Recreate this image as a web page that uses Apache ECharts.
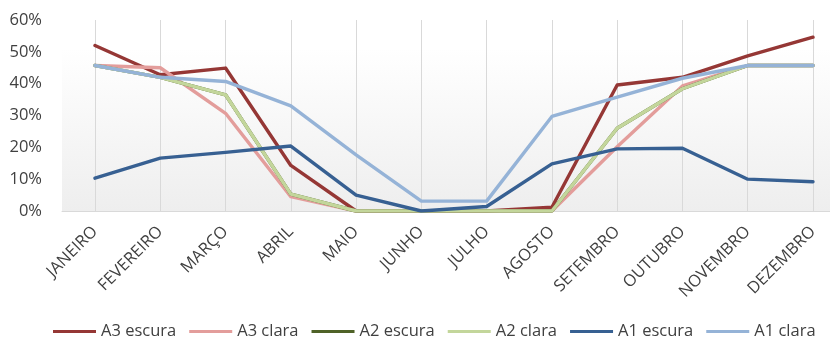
<!DOCTYPE html>
<html>
<head>
<meta charset="utf-8">
<script src="https://cdn.jsdelivr.net/npm/echarts@6/dist/echarts.min.js"></script>
<style>
html,body{margin:0;padding:0;background:#fff;}
#c{width:830px;height:342px;}
</style>
</head>
<body>
<div id="c"></div>
<script>
const months = ['JANEIRO','FEVEREIRO','MARÇO','ABRIL','MAIO','JUNHO','JULHO','AGOSTO','SETEMBRO','OUTUBRO','NOVEMBRO','DEZEMBRO'];
const yTicks = [0, 60, 10]; // min, max, interval (%)
const a3Escura = [52, 42.8, 44.9, 14.3, 0, 0, 0, 1.2, 39.6, 42, 48.7, 54.6];
const a3Clara  = [45.7, 45, 30.7, 4.5, 0, 0, 0, 0, 20.2, 39.3, 45.7, 45.7];
const a2Escura = [45.7, 42, 36.5, 5.3, 0, 0, 0, 0, 26, 38.4, 45.7, 45.7];
const a2Clara  = [45.7, 42, 36.5, 5.3, 0, 0, 0, 0, 26, 38.4, 45.7, 45.7];
const a1Escura = [10.3, 16.6, 18.4, 20.4, 5, 0, 1.4, 14.8, 19.5, 19.7, 10, 9.2];
const a1Clara  = [45.7, 42, 40.7, 33, 17.6, 3.1, 3.1, 29.7, 35.8, 41.7, 45.7, 45.7];

const seriesDefs = [
  ['A3 escura', a3Escura, '#953735'],
  ['A3 clara', a3Clara, '#E39D9B'],
  ['A2 escura', a2Escura, '#4F6228'],
  ['A2 clara', a2Clara, '#C3D69B'],
  ['A1 escura', a1Escura, '#376092'],
  ['A1 clara', a1Clara, '#95B3D7']
];

const FONT = '"Open Sans"';
const FS = 16.5;
const chart = echarts.init(document.getElementById('c'), null, {renderer:'canvas'});
chart.setOption({
  animation: false,
  backgroundColor: '#ffffff',
  grid: [
    {left: 62, right: 0, top: 20, bottom: 131, show: true, borderWidth: 0,
     backgroundColor: {type:'linear', x:0, y:0, x2:0, y2:1,
       colorStops:[{offset:0,color:'#ffffff'},{offset:0.15,color:'#ffffff'},{offset:1,color:'#eeeeee'}]}},
    {left: 95, right: 17, top: 20, bottom: 131}
  ],
  legend: {
    left: 53, top: 323, width: 800, padding: 0,
    itemWidth: 43, itemHeight: 3, itemGap: 13,
    icon: 'rect',
    textStyle: {fontFamily: FONT, fontSize: FS, color: '#404040'},
    data: seriesDefs.map(d => d[0])
  },
  xAxis: [
    {gridIndex: 0, type: 'category', data: months, boundaryGap: false,
     axisLine: {show: true, lineStyle: {color: '#d9d9d9', width: 1}},
     axisTick: {show: false}, axisLabel: {show: false}, splitLine: {show: false}},
    {gridIndex: 1, type: 'category', data: months, boundaryGap: false,
     axisLine: {show: false}, axisTick: {show: false},
     axisLabel: {rotate: 45, margin: 18, fontFamily: FONT, fontSize: FS, color: '#404040', interval: 0},
     splitLine: {show: true, lineStyle: {color: '#d9d9d9', width: 1}}}
  ],
  yAxis: [
    {gridIndex: 0, type: 'value', min: yTicks[0], max: yTicks[1], interval: yTicks[2],
     axisLine: {show: false}, axisTick: {show: false}, splitLine: {show: false},
     axisLabel: {formatter: '{value}%', margin: 20, fontFamily: FONT, fontSize: FS, color: '#404040'}},
    {gridIndex: 1, type: 'value', min: yTicks[0], max: yTicks[1], interval: yTicks[2],
     show: false, splitLine: {show: false}}
  ],
  series: seriesDefs.map(d => ({
    name: d[0], type: 'line', xAxisIndex: 1, yAxisIndex: 1,
    data: d[1], showSymbol: false, symbol: 'none', smooth: false,
    lineStyle: {color: d[2], width: 3.4, cap: 'round', join: 'round'},
    itemStyle: {color: d[2]}
  }))
});
</script>
</body>
</html>
